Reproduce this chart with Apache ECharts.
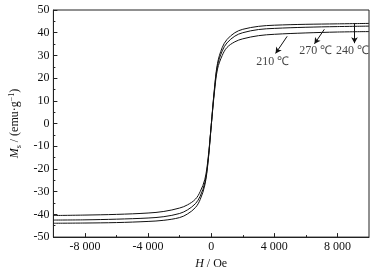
<!DOCTYPE html>
<html><head><meta charset="utf-8">
<script src="https://cdn.jsdelivr.net/npm/echarts@6/dist/echarts.min.js"></script>
<style>html,body{margin:0;padding:0;background:#fff}#c{width:382px;height:275px}</style>
</head><body><div id="c"></div>
<script>
// Field H (Oe)
const fieldH = [-10000,-8000,-6000,-4000,-3000,-2000,-1500,-1000,-700,-400,-200,0,200,400,700,1000,1500,2000,3000,4000,6000,8000,10000];
// Magnetization (emu/g)
const ms240 = [-43.9,-43.8,-43.6,-43.1,-42.6,-41.4,-39.8,-37,-33.5,-27,-17,-1,15,26.5,33.5,37,40,41.5,42.8,43.3,43.7,43.9,44.1];
const ms270 = [-42.5,-42.4,-42.1,-41.6,-41,-39.6,-38,-35.3,-32,-26,-16.5,-1,14.5,25.5,32,35.5,38.5,40,41.4,41.9,42.4,42.7,42.9];
const ms210 = [-40.5,-40.3,-40,-39.4,-38.7,-37.2,-35.8,-33.3,-30,-24.5,-15.5,-1,13.5,24,30,33.5,36,37.3,38.7,39.3,39.9,40.3,40.5];
const xMajorTicks = [-8000,-4000,0,4000,8000];
const xMinorTicks = [-6000,-2000,2000,6000];
// annotations
const annotLabels = ['210 ℃','270 ℃','240 ℃'];
const annotText = [[3900,27],[6625,32],[8960,32]];
const annotArrow = [[[4812,38.4],[4081,30.9]],[[7170,41.5],[6544,35.1]],[[9081,44.2],[9081,35.4]]];

const font = 'Liberation Serif';
const fmt = v => { const a = Math.abs(v); let s = a >= 1000 ? Math.floor(a/1000) + ' ' + String(a%1000).padStart(3,'0') : String(a); return (v<0?'-':'') + s; };
const pair = arr => fieldH.map((h,i)=>[h, arr[i]]);
const line = (name, arr) => ({type:'line', name, data: pair(arr), showSymbol:false, smooth:0.35, lineStyle:{color:'#111', width:1}, silent:true});

const series = [line('240', ms240), line('270', ms270), line('210', ms210)];
series.push({
  type:'scatter', data: annotText.map((p,i)=>({value:p, label:{formatter: annotLabels[i]}})), symbolSize:0,
  label:{show:true, position:'inside', color:'#111', fontFamily:font, fontSize:12}, silent:true
});
series[0].markLine = {
  silent:true, symbol:['none','arrow'], symbolSize:[5,6], label:{show:false},
  lineStyle:{color:'#111', width:1, type:'solid'},
  data: annotArrow.map(a => [{coord:a[0]},{coord:a[1]}])
};

const chart = echarts.init(document.getElementById('c'));
chart.setOption({
  animation:false,
  grid:{left:47, right:13, top:10, bottom:30, show:true, borderColor:'#222', borderWidth:1, backgroundColor:'transparent'},
  xAxis:[{
    type:'value', min:-10000, max:10000,
    axisLine:{onZero:false, lineStyle:{color:'#222'}},
    axisTick:{inside:true, length:4, customValues:xMajorTicks, lineStyle:{color:'#222'}},
    axisLabel:{customValues:xMajorTicks, formatter:fmt, color:'#111', fontFamily:font, fontSize:12, margin:4},
    splitLine:{show:false},
    name:'{i|H} / Oe', nameLocation:'middle', nameGap:17,
    nameTextStyle:{color:'#111', fontFamily:font, fontSize:12, rich:{i:{fontStyle:'italic', fontFamily:font, fontSize:12, color:'#111'}}}
  },{
    type:'value', min:-10000, max:10000, position:'bottom',
    axisLine:{show:false, onZero:false},
    axisTick:{inside:true, length:2, customValues:xMinorTicks, lineStyle:{color:'#222'}},
    axisLabel:{show:false}, splitLine:{show:false}
  }],
  yAxis:{
    type:'value', min:-50, max:50, interval:10,
    axisLine:{onZero:false, lineStyle:{color:'#222'}},
    axisTick:{inside:true, length:4, lineStyle:{color:'#222'}},
    minorTick:{show:true, splitNumber:2, length:2, lineStyle:{color:'#222'}},
    axisLabel:{color:'#111', fontFamily:font, fontSize:12, margin:4},
    splitLine:{show:false},
    name:'{i|M}{s|s} / (emu·g{p|−1})', nameLocation:'middle', nameRotate:90, nameGap:29,
    nameTextStyle:{color:'#111', fontFamily:font, fontSize:12, rich:{
      i:{fontStyle:'italic', fontFamily:font, fontSize:12, color:'#111'},
      s:{fontFamily:font, fontSize:8, color:'#111', padding:[7,0,0,0]},
      p:{fontFamily:font, fontSize:8, color:'#111', padding:[0,0,6,0]}
    }}
  },
  series
});
</script></body></html>
